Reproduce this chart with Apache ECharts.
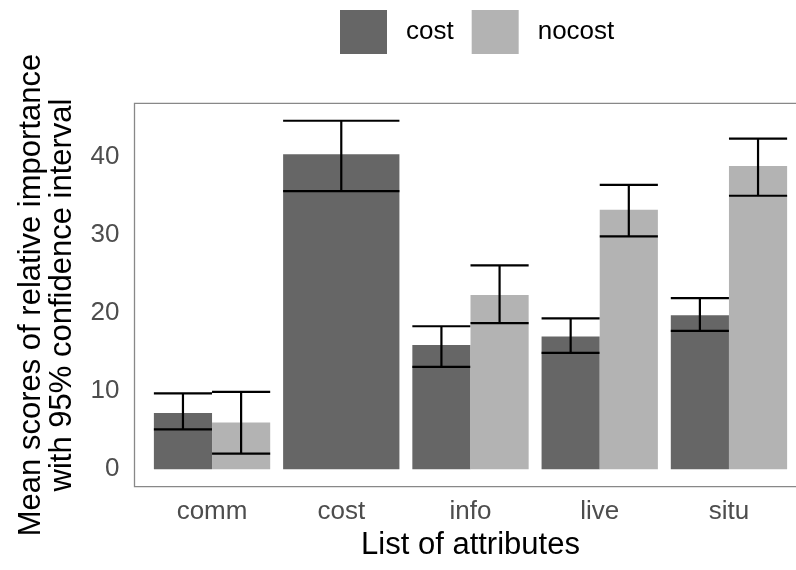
<!DOCTYPE html>
<html>
<head>
<meta charset="utf-8">
<script src="https://cdn.jsdelivr.net/npm/echarts@6/dist/echarts.min.js"></script>
<style>
  html, body { margin: 0; padding: 0; background: #fff; }
  #chart { width: 796px; height: 570px; }
</style>
</head>
<body>
<div id="chart"></div>
<script>
// categories on the x axis
var categories = ['comm', 'cost', 'info', 'live', 'situ'];
var seriesNames = ['cost', 'nocost'];

// mean scores (null = no bar)
var costMean   = [7.2, 40.3, 15.9, 17.0, 19.7];
var nocostMean = [6.0, null, 22.3, 33.2, 38.8];

// 95% confidence interval ends
var costLow    = [5.1, 35.6, 13.1, 14.9, 17.7];
var costHigh   = [9.7, 44.6, 18.3, 19.3, 21.9];
var nocostLow  = [2.0, null, 18.7, 29.8, 35.0];
var nocostHigh = [9.9, null, 26.1, 36.4, 42.3];

var yTicks = [0, 10, 20, 30, 40];

var fontFam = "'Liberation Sans', Arial, Helvetica, sans-serif";

// ggplot style expansion: 5% on continuous, 0.6 on discrete
var allHigh = costHigh.concat(nocostHigh).filter(function(v){ return v != null; });
var yMaxData = Math.max.apply(null, allHigh);
var yMin = -yMaxData * 0.05;
var yMax = yMaxData * 1.05;

function buildData(mean, low, high){
  var out = [];
  for (var i = 0; i < categories.length; i++) {
    if (mean[i] == null) continue;
    out.push([i, mean[i], low[i], high[i]]);
  }
  return out;
}

function makeRender(side){
  return function(params, api){
    var i = api.value(0);
    var both = costMean[i] != null && nocostMean[i] != null;
    var w = both ? 0.45 : 0.9;
    var cx = both ? i + side * 0.225 : i;
    var topLeft = api.coord([cx - w / 2, api.value(1)]);
    var botRight = api.coord([cx + w / 2, 0]);
    var hiL = api.coord([cx - w / 2, api.value(3)]);
    var hiR = api.coord([cx + w / 2, api.value(3)]);
    var loL = api.coord([cx - w / 2, api.value(2)]);
    var loR = api.coord([cx + w / 2, api.value(2)]);
    var mid = (hiL[0] + hiR[0]) / 2;
    var lineStyle = { stroke: '#000', lineWidth: 2.2 };
    return {
      type: 'group',
      children: [
        { type: 'rect',
          shape: { x: topLeft[0], y: topLeft[1], width: botRight[0] - topLeft[0], height: botRight[1] - topLeft[1] },
          style: { fill: api.visual('color') } },
        { type: 'line', shape: { x1: mid, y1: hiL[1], x2: mid, y2: loL[1] }, style: lineStyle },
        { type: 'line', shape: { x1: hiL[0], y1: hiL[1], x2: hiR[0], y2: hiR[1] }, style: lineStyle },
        { type: 'line', shape: { x1: loL[0], y1: loL[1], x2: loR[0], y2: loR[1] }, style: lineStyle }
      ]
    };
  };
}

var chart = echarts.init(document.getElementById('chart'), null, { renderer: 'canvas' });

var option = {
  backgroundColor: '#fff',
  animation: false,
  legend: {
    data: seriesNames,
    left: 340,
    top: 10,
    padding: 0,
    icon: 'rect',
    itemWidth: 47,
    itemHeight: 44,
    itemGap: 18,
    textStyle: { fontSize: 26, color: '#000', fontFamily: fontFam, padding: [0, 0, 0, 14] }
  },
  grid: {
    left: 134.5,
    width: 672,
    top: 103.3,
    bottom: 83.3,
    outerBoundsMode: 'none',
    containLabel: false,
    show: true,
    borderColor: '#888',
    borderWidth: 1.3
  },
  xAxis: {
    type: 'value',
    min: -0.6,
    max: categories.length - 0.4,
    splitNumber: 5,
    axisLine: { show: false },
    axisTick: { show: false },
    splitLine: { show: false },
    axisLabel: {
      margin: 12,
      fontSize: 26,
      color: '#4d4d4d',
      fontFamily: fontFam,
      showMinLabel: false,
      showMaxLabel: false,
      formatter: function(v){
        return (Math.abs(v - Math.round(v)) < 1e-6 && categories[Math.round(v)]) ? categories[Math.round(v)] : '';
      }
    },
    name: 'List of attributes',
    nameLocation: 'middle',
    nameGap: 41,
    nameTextStyle: { fontSize: 31, color: '#000', fontFamily: fontFam }
  },
  yAxis: {
    type: 'value',
    min: yMin,
    max: yMax,
    splitNumber: 5,
    axisLine: { show: false },
    axisTick: { show: false },
    splitLine: { show: false },
    axisLabel: {
      margin: 15,
      fontSize: 26,
      color: '#4d4d4d',
      fontFamily: fontFam,
      showMinLabel: false,
      showMaxLabel: false,
      formatter: function(v){
        var r = Math.round(v);
        return (Math.abs(v - r) < 1e-6 && yTicks.indexOf(r) >= 0) ? String(r) : '';
      }
    },
    name: 'Mean scores of relative importance\nwith 95% confidence interval',
    nameLocation: 'middle',
    nameRotate: 90,
    nameGap: 57,
    nameTextStyle: { fontSize: 31, lineHeight: 31, color: '#000', fontFamily: fontFam }
  },
  series: [
    {
      name: 'cost',
      type: 'custom',
      itemStyle: { color: '#666666' },
      renderItem: makeRender(-1),
      data: buildData(costMean, costLow, costHigh),
      encode: { x: 0, y: [1, 2, 3] }
    },
    {
      name: 'nocost',
      type: 'custom',
      itemStyle: { color: '#b3b3b3' },
      renderItem: makeRender(1),
      data: buildData(nocostMean, nocostLow, nocostHigh),
      encode: { x: 0, y: [1, 2, 3] }
    }
  ]
};

chart.setOption(option);
</script>
</body>
</html>
